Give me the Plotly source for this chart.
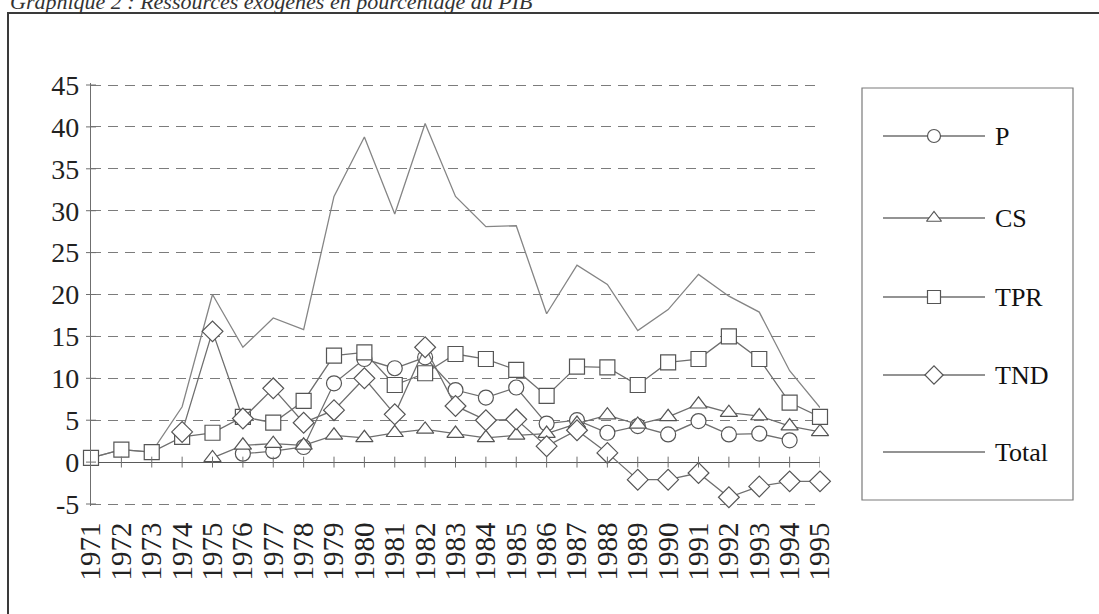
import plotly.graph_objects as go

# Ressources exogènes en pourcentage du PIB, 1971-1995
years = list(range(1971, 1996))

p_vals = [None, None, None, None, None, 1.0, 1.3, 1.8, 9.4, 12.3, 11.2, 12.5, 8.6,
          7.7, 8.9, 4.6, 5.0, 3.5, 4.3, 3.3, 4.9, 3.3, 3.4, 2.6, None]
cs_vals = [None, None, None, None, 0.5, 2.0, 2.2, 2.0, 3.2, 2.9, 3.5, 3.9, 3.4,
           2.9, 3.2, 3.4, 4.6, 5.6, 4.5, 5.4, 6.9, 5.9, 5.5, 4.3, 3.6]
tpr_vals = [0.5, 1.5, 1.2, 3.0, 3.5, 5.4, 4.7, 7.3, 12.7, 13.1, 9.2, 10.6, 12.9,
            12.3, 11.0, 7.9, 11.4, 11.3, 9.2, 11.9, 12.3, 15.0, 12.3, 7.1, 5.4]
tnd_vals = [None, None, None, 3.6, 15.6, 5.2, 8.8, 4.7, 6.2, 10.0, 5.7, 13.7, 6.7,
            5.0, 5.1, 1.9, 3.8, 1.1, -2.1, -2.1, -1.3, -4.2, -2.9, -2.3, -2.3]
total_vals = [0.5, 1.5, 1.2, 6.6, 20.0, 13.7, 17.2, 15.8, 31.7, 38.8, 29.6, 40.4, 31.7,
              28.1, 28.2, 17.7, 23.5, 21.2, 15.7, 18.2, 22.4, 19.8, 17.9, 10.9, 6.5]

series_names = ["P", "CS", "TPR", "TND", "Total"]
y_ticks = list(range(-5, 50, 5))
y_ticktext = [str(v) for v in y_ticks]  # plain hyphen for the negative label
title_text = "Graphique 2 : Ressources exogènes en pourcentage du PIB"

W, H = 1099, 614
LINE = "#6f6f6f"
EDGE = "#555555"
SERIF = "Liberation Serif, Times New Roman, serif"

# plot rectangle in pixels (value range padded slightly so the -5 and 45 grid lines show)
Y_LO, Y_HI = -5.2, 45.2
PX_PER_UNIT = 8.38
PL, PR = 91, 820
PT = 85 - (Y_HI - 45) * PX_PER_UNIT
PB = 504 + (-5 - Y_LO) * PX_PER_UNIT

styles = {
    "P": dict(symbol="circle", size=15),
    "CS": dict(symbol="triangle-up", size=15),
    "TPR": dict(symbol="square", size=15),
    "TND": dict(symbol="diamond", size=16),
}
values = {"P": p_vals, "CS": cs_vals, "TPR": tpr_vals, "TND": tnd_vals, "Total": total_vals}

fig = go.Figure()

fig.add_trace(go.Scatter(
    x=years, y=total_vals, mode="lines", name="Total",
    line=dict(color="#858585", width=1.3), showlegend=False, cliponaxis=False,
))
for name in ["P", "CS", "TPR", "TND"]:
    st = styles[name]
    fig.add_trace(go.Scatter(
        x=years, y=values[name], mode="lines+markers", name=name,
        line=dict(color=LINE, width=1.3),
        marker=dict(symbol=st["symbol"], size=st["size"], color="white",
                    line=dict(color=EDGE, width=1.2)),
        showlegend=False, cliponaxis=False,
    ))

# hand-built legend panel on its own axes (pixel units)
LX0, LX1, LY0, LY1 = 862, 1073, 88, 500
legend_rows = [136, 218, 297, 375, 452]
for name, yrow in zip(series_names, legend_rows):
    fig.add_trace(go.Scatter(
        x=[883, 985], y=[yrow, yrow], mode="lines", xaxis="x2", yaxis="y2",
        line=dict(color=LINE, width=1.3), showlegend=False, hoverinfo="skip",
    ))
    if name in styles:
        st = styles[name]
        fig.add_trace(go.Scatter(
            x=[934], y=[yrow], mode="markers", xaxis="x2", yaxis="y2",
            marker=dict(symbol=st["symbol"], size=st["size"] - 2, color="white",
                        line=dict(color=EDGE, width=1.2)),
            showlegend=False, hoverinfo="skip",
        ))

shapes = []
annotations = []

# outer frame
shapes.append(dict(type="rect", xref="paper", yref="paper",
                   x0=8 / W, x1=1.02, y0=-0.02, y1=1 - 13 / H,
                   line=dict(color="#3a3a3a", width=2)))
# legend frame
shapes.append(dict(type="rect", xref="paper", yref="paper",
                   x0=LX0 / W, x1=LX1 / W, y0=1 - LY1 / H, y1=1 - LY0 / H,
                   line=dict(color="#7a7a7a", width=1.2)))

# cross ticks on the value axis
for v in y_ticks:
    shapes.append(dict(type="line", xref="x domain", yref="y",
                       x0=-5 / (PR - PL), x1=5 / (PR - PL), y0=v, y1=v,
                       line=dict(color=LINE, width=1)))
# cross ticks on the zero line
for yr in years[1:]:
    shapes.append(dict(type="line", xref="x", yref="y",
                       x0=yr, x1=yr, y0=-0.65, y1=0.65,
                       line=dict(color=LINE, width=1)))

for name, yrow in zip(series_names, legend_rows):
    annotations.append(dict(
        x=993, y=yrow, xref="x2", yref="y2", text=name, showarrow=False,
        xanchor="left", yanchor="middle",
        font=dict(family=SERIF, size=26, color="#111111"),
    ))

annotations.append(dict(
    x=8 / W, y=1 - 16 / H, xref="paper", yref="paper", text="<i>" + title_text + "</i>",
    showarrow=False, xanchor="left", yanchor="bottom",
    font=dict(family=SERIF, size=22, color="#333333"),
))

fig.update_layout(
    width=W, height=H,
    margin=dict(l=0, r=0, t=0, b=0),
    paper_bgcolor="white", plot_bgcolor="white",
    showlegend=False,
    xaxis=dict(
        domain=[PL / W, PR / W], range=[1971, 1995],
        tickmode="array", tickvals=years, ticktext=[str(y) for y in years],
        tickangle=-90, ticks="", ticklabelstandoff=10,
        tickfont=dict(family=SERIF, size=29, color="#222222"),
        showgrid=False, showline=False, zeroline=False, automargin=False,
    ),
    yaxis=dict(
        domain=[1 - PB / H, 1 - PT / H], range=[Y_LO, Y_HI],
        tickmode="array", tickvals=y_ticks, ticktext=y_ticktext,
        ticks="", ticklabelstandoff=5,
        tickfont=dict(family=SERIF, size=28, color="#222222"),
        showgrid=True, gridcolor="#7c7c7c", gridwidth=1, griddash="10px,7px",
        showline=True, linecolor=LINE, linewidth=1.2,
        zeroline=True, zerolinecolor="#5a5a5a", zerolinewidth=1.3,
        automargin=False,
    ),
    xaxis2=dict(domain=[LX0 / W, LX1 / W], range=[LX0, LX1], visible=False,
                anchor="y2", fixedrange=True),
    yaxis2=dict(domain=[1 - LY1 / H, 1 - LY0 / H], range=[LY1, LY0], visible=False,
                anchor="x2", fixedrange=True),
    shapes=shapes,
    annotations=annotations,
)

fig.write_html("out.html")
